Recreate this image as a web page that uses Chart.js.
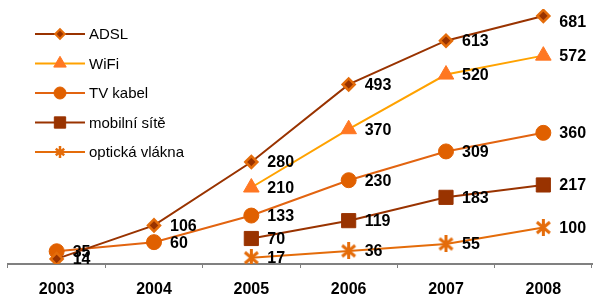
<!DOCTYPE html>
<html>
<head>
<meta charset="utf-8">
<script src="https://cdn.jsdelivr.net/npm/chart.js@4"></script>
<style>
  html, body { margin: 0; padding: 0; background: #fff; }
  #wrap { width: 593px; height: 295px; position: relative; }
</style>
</head>
<body>
<div id="wrap"><canvas id="netChart"></canvas></div>
<script>
// Data
const years = ['2003', '2004', '2005', '2006', '2007', '2008'];
const adsl = [14, 106, 280, 493, 613, 681];
const wifi = [null, null, 210, 370, 520, 572];
const tvKabel = [35, 60, 133, 230, 309, 360];
const mobilni = [null, null, 70, 119, 183, 217];
const opticka = [null, null, 17, 36, 55, 100];

const FONT = '"Liberation Sans", Arial, sans-serif';

// asterisk-like marker (X plus vertical bar) for the fibre series
function makeStar(color, s, lw) {
    const c = document.createElement('canvas');
    c.width = s; c.height = s;
    const g = c.getContext('2d');
    const m = lw / 2 + 0.5;
    g.strokeStyle = color;
    g.lineWidth = lw;
    g.beginPath();
    g.moveTo(m, m + 1); g.lineTo(s - m, s - m - 1);
    g.moveTo(s - m, m + 1); g.lineTo(m, s - m - 1);
    g.moveTo(s / 2, 0); g.lineTo(s / 2, s);
    g.stroke();
    return c;
}
const starMark = makeStar('#E46C0A', 17, 3);
const starSmall = makeStar('#E46C0A', 12, 2.5);

// value labels to the right of each point
const valueLabels = {
    id: 'valueLabels',
    afterDatasetsDraw(chart) {
        const ctx = chart.ctx;
        ctx.save();
        ctx.font = 'bold 16px ' + FONT;
        ctx.fillStyle = '#000';
        ctx.textAlign = 'left';
        ctx.textBaseline = 'middle';
        chart.data.datasets.forEach((ds, i) => {
            chart.getDatasetMeta(i).data.forEach((pt, j) => {
                if (ds.data[j] == null) return;
                const dy = pt.y < 25 ? 7 : 1;
                ctx.fillText(ds.data[j], pt.x + 16, pt.y + dy);
            });
        });
        ctx.restore();
    }
};

// legend drawn inside the plot, top left, with smaller markers
const sideLegend = {
    id: 'sideLegend',
    afterDraw(chart) {
        const ctx = chart.ctx;
        ctx.save();
        chart.data.datasets.forEach((ds, i) => {
            const y = 34 + i * 29.5;
            ctx.strokeStyle = ds.borderColor;
            ctx.lineWidth = 2;
            ctx.beginPath();
            ctx.moveTo(35, y);
            ctx.lineTo(85, y);
            ctx.stroke();
            ctx.fillStyle = ds.pointBackgroundColor;
            ctx.strokeStyle = ds.pointBorderColor;
            ctx.lineWidth = Math.min(ds.pointBorderWidth, 2);
            const style = ds.pointStyle === starMark ? starSmall : ds.pointStyle;
            Chart.helpers.drawPoint(ctx, {
                pointStyle: style,
                radius: ds.pointRadius * 0.8,
                borderWidth: ctx.lineWidth
            }, 60, y);
            ctx.fillStyle = '#000';
            ctx.font = '15px ' + FONT;
            ctx.textAlign = 'left';
            ctx.textBaseline = 'middle';
            ctx.fillText(ds.label, 89, y + 1);
        });
        ctx.restore();
    }
};

const ctx = document.getElementById('netChart').getContext('2d');
const netChart = new Chart(ctx, {
    type: 'line',
    data: {
        labels: years,
        datasets: [{
            label: 'ADSL',
            data: adsl,
            borderColor: '#993300',
            borderWidth: 2,
            pointStyle: 'rectRot',
            pointRadius: 6,
            pointBackgroundColor: '#993300',
            pointBorderColor: '#E46C0A',
            pointBorderWidth: 2.5
        }, {
            label: 'WiFi',
            data: wifi,
            borderColor: '#FFA200',
            borderWidth: 2,
            pointStyle: 'triangle',
            pointRadius: 9,
            pointBackgroundColor: '#FF7722',
            pointBorderColor: '#FF7722',
            pointBorderWidth: 1
        }, {
            label: 'TV kabel',
            data: tvKabel,
            borderColor: '#E26410',
            borderWidth: 2,
            pointStyle: 'circle',
            pointRadius: 7.5,
            pointBackgroundColor: '#E06000',
            pointBorderColor: '#E06000',
            pointBorderWidth: 1
        }, {
            label: 'mobilní sítě',
            data: mobilni,
            borderColor: '#993300',
            borderWidth: 2,
            pointStyle: 'rect',
            pointRadius: 10,
            pointBackgroundColor: '#993300',
            pointBorderColor: '#993300',
            pointBorderWidth: 1
        }, {
            label: 'optická vlákna',
            data: opticka,
            borderColor: '#E46C0A',
            borderWidth: 2,
            pointStyle: starMark,
            pointRadius: 8,
            pointBackgroundColor: '#E46C0A',
            pointBorderColor: '#E46C0A',
            pointBorderWidth: 3
        }]
    },
    options: {
        responsive: true,
        maintainAspectRatio: false,
        animation: false,
        spanGaps: false,
        layout: { autoPadding: false, padding: { left: 8, right: 1, top: 9, bottom: -17 } },
        plugins: {
            legend: { display: false },
            tooltip: { enabled: false }
        },
        scales: {
            x: {
                offset: true,
                grid: {
                    offset: true,
                    drawOnChartArea: false,
                    color: '#808080',
                    tickLength: 4,
                    lineWidth: 1
                },
                border: { color: '#808080', width: 2 },
                ticks: {
                    color: '#000',
                    padding: 14,
                    font: { family: FONT, size: 16, weight: 'bold', lineHeight: 1 }
                }
            },
            y: {
                display: false,
                min: 0,
                max: 700
            }
        }
    },
    plugins: [valueLabels, sideLegend]
});
</script>
</body>
</html>
